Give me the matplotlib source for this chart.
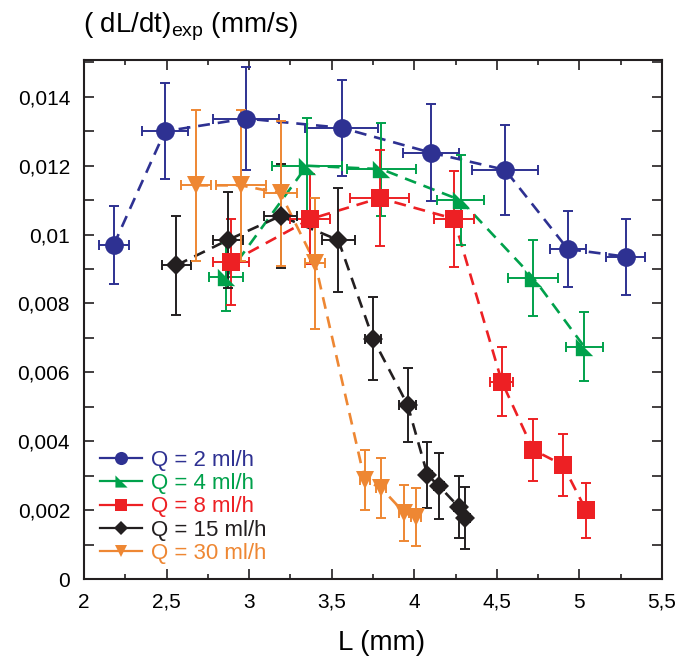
import matplotlib
matplotlib.use("Agg")
import matplotlib.pyplot as plt
from matplotlib.lines import Line2D
from matplotlib.ticker import MultipleLocator, FuncFormatter

plt.rcParams['font.family'] = ['Liberation Sans', 'DejaVu Sans']
plt.rcParams['mathtext.fontset'] = 'custom'
plt.rcParams['mathtext.rm'] = 'Liberation Sans'
plt.rcParams['mathtext.it'] = 'Liberation Sans'

# data: L (mm), dL/dt (mm/s) and error bars, one block per flow rate
L2 = [2.18, 2.49, 2.98, 3.56, 4.10, 4.55, 4.93, 5.28]
v2 = [0.0097, 0.0130, 0.01337, 0.0131, 0.01238, 0.01188, 0.00958, 0.00936]
ey2 = [0.00114, 0.0014, 0.0015, 0.0014, 0.0014, 0.0013, 0.0011, 0.0011]
ex2 = [0.09, 0.14, 0.20, 0.22, 0.17, 0.20, 0.11, 0.12]

L4 = [2.86, 3.35, 3.80, 4.28, 4.72, 5.03]
v4 = [0.00877, 0.0120, 0.0119, 0.0110, 0.00875, 0.00674]
ey4 = [0.0010, 0.0014, 0.00135, 0.0013, 0.0011, 0.0010]
ex4 = [0.10, 0.21, 0.21, 0.14, 0.15, 0.11]

L8 = [2.89, 3.37, 3.79, 4.24, 4.53, 4.72, 4.90, 5.04]
v8 = [0.0092, 0.01045, 0.01106, 0.01046, 0.00573, 0.00375, 0.00331, 0.0020]
ey8 = [0.00125, 0.0013, 0.0014, 0.0014, 0.0010, 0.0009, 0.0009, 0.0008]
ex8 = [0.11, 0.12, 0.18, 0.12, 0.07, 0.04, 0.04, 0.04]

L15 = [2.56, 2.87, 3.19, 3.54, 3.75, 3.96, 4.08, 4.15, 4.27, 4.31]
v15 = [0.00911, 0.00984, 0.01054, 0.00984, 0.00698, 0.00505, 0.00302, 0.0027, 0.00209, 0.00177]
ey15 = [0.00143, 0.0014, 0.0015, 0.0015, 0.0012, 0.00108, 0.00095, 0.00095, 0.0009, 0.00089]
ex15 = [0.09, 0.09, 0.10, 0.10, 0.05, 0.05, 0.03, 0.03, 0.03, 0.03]

L30 = [2.68, 2.95, 3.19, 3.40, 3.70, 3.80, 3.94, 4.01]
v30 = [0.01143, 0.01143, 0.0112, 0.00917, 0.00287, 0.00264, 0.00192, 0.0018]
ey30 = [0.0022, 0.0022, 0.0021, 0.0019, 0.00087, 0.00087, 0.00082, 0.00083]
ex30 = [0.09, 0.15, 0.10, 0.06, 0.03, 0.03, 0.03, 0.03]

labels = ['Q = 2 ml/h', 'Q = 4 ml/h', 'Q = 8 ml/h', 'Q = 15 ml/h', 'Q = 30 ml/h']

# right triangle marker (like ◣)
tri = [(-1, 1), (-1, -1), (1, -1), (-1, 1)]

series = [
    (L2, v2, ex2, ey2, '#2E3192', 'o', 13.5),
    (L4, v4, ex4, ey4, '#00A14B', tri, 12.5),
    (L8, v8, ex8, ey8, '#ED2024', 's', 12.5),
    (L15, v15, ex15, ey15, '#231F20', 'D', 10.5),
    (L30, v30, ex30, ey30, '#EE8733', 'v', 12.5),
]

fig = plt.figure(figsize=(6.8, 6.57), dpi=100)
ax = fig.add_axes([0.1235, 0.1187, 0.85, 0.79])

handles = []
for (x, y, ex, ey, c, m, ms), lab in zip(series, labels):
    ax.plot(x, y, linestyle='--', dashes=(4.5, 3), color=c, lw=1.9, zorder=2)
    ax.errorbar(x, y, xerr=ex, yerr=ey, fmt='none', ecolor=c,
                elinewidth=1.4, capsize=3.5, capthick=1.4, zorder=3)
    ax.plot(x, y, linestyle='none', marker=m, color=c, ms=ms, mew=0, zorder=4)
    handles.append(Line2D([], [], color=c, marker=m, ms=ms * 0.7, mew=0, lw=1.6))

ax.set_xlim(2, 5.5)
ax.set_ylim(0, 0.01507)
ax.xaxis.set_major_locator(MultipleLocator(0.5))
ax.xaxis.set_minor_locator(MultipleLocator(0.25))
ax.yaxis.set_major_locator(MultipleLocator(0.002))
ax.yaxis.set_minor_locator(MultipleLocator(0.001))
fmt = FuncFormatter(lambda v, p: ('%g' % v).replace('.', ','))
ax.xaxis.set_major_formatter(fmt)
ax.yaxis.set_major_formatter(fmt)

ax.tick_params(which='both', direction='in', top=True, right=True,
               width=1.2, color='#231F20', labelsize=15)
ax.tick_params(axis='x', which='major', length=7, pad=10)
ax.tick_params(axis='x', which='minor', length=3.5)
ax.tick_params(axis='y', which='both', length=7, pad=10)
for s in ax.spines.values():
    s.set_linewidth(1.5)
    s.set_color('#231F20')

ax.set_xlabel('L (mm)', fontsize=20)
ax.xaxis.set_label_coords(0.514, -0.098)
fig.text(0.122, 0.95, r'( dL/dt)$_{\mathrm{exp}}$ (mm/s)', fontsize=20,
         ha='left', va='baseline')

leg = ax.legend(handles, labels, loc='lower left', bbox_to_anchor=(0.012, 0.012),
                frameon=False, fontsize=16, handlelength=1.9, handletextpad=0.4,
                labelspacing=0.1, borderaxespad=0)
for t, h in zip(leg.get_texts(), handles):
    t.set_color(h.get_color())

fig.savefig('out.png', dpi=100)
